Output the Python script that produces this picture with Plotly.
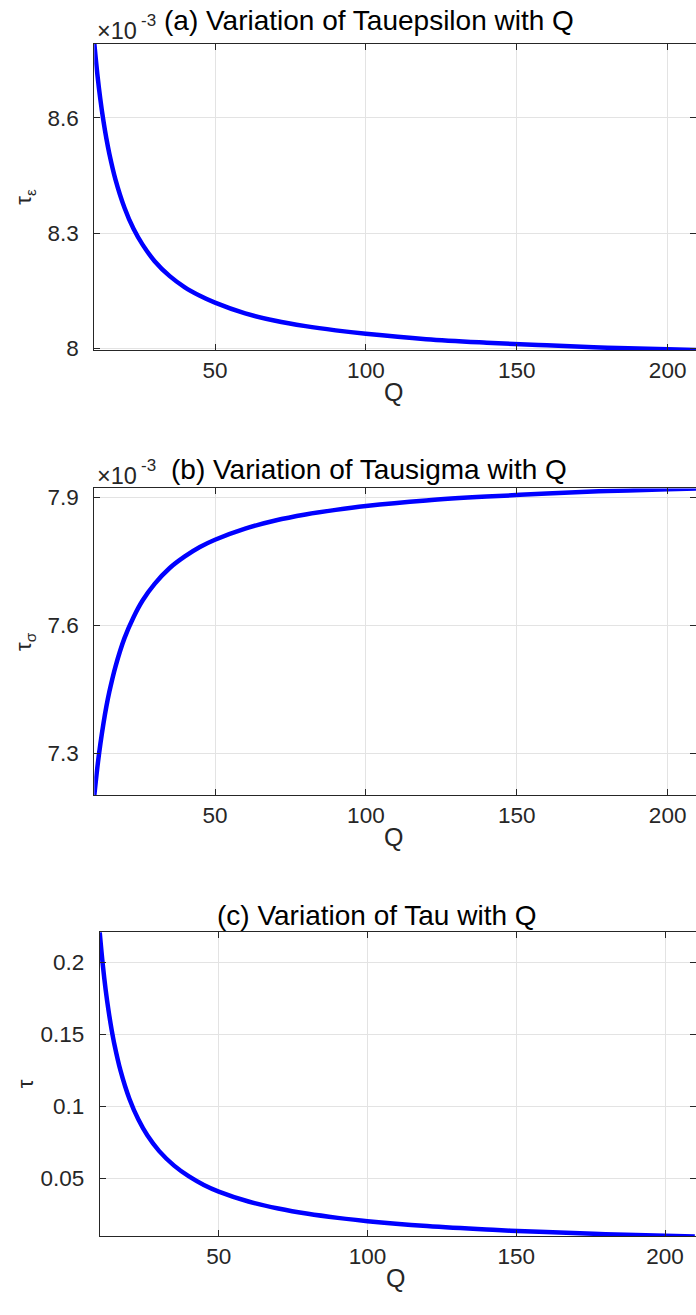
import plotly.graph_objects as go

# Quality factor samples
Q = [10, 11, 12, 13, 14, 15, 17, 20, 23, 26, 30, 35, 40, 45, 50,
     60, 70, 80, 90, 100, 120, 140, 160, 180, 200, 210]

# Strain relaxation time tau_epsilon (units of 1e-3 s)
tau_eps = [8.793, 8.714, 8.648, 8.593, 8.546, 8.506, 8.440, 8.366, 8.311,
           8.270, 8.227, 8.188, 8.159, 8.137, 8.119, 8.091, 8.072, 8.058,
           8.047, 8.038, 8.024, 8.015, 8.008, 8.002, 7.998, 7.996]

# Stress relaxation time tau_sigma (units of 1e-3 s)
tau_sig = [7.202, 7.267, 7.322, 7.369, 7.410, 7.445, 7.503, 7.570, 7.619,
           7.658, 7.697, 7.734, 7.761, 7.783, 7.800, 7.826, 7.845, 7.859,
           7.870, 7.879, 7.892, 7.901, 7.908, 7.914, 7.918, 7.920]

# tau = tau_epsilon / tau_sigma - 1
tau = [0.2210, 0.1991, 0.1811, 0.1661, 0.1534, 0.1425, 0.1248, 0.1051,
       0.0908, 0.0799, 0.0689, 0.0588, 0.0513, 0.0454, 0.0408, 0.0339,
       0.0290, 0.0253, 0.0225, 0.0202, 0.0168, 0.0144, 0.0126, 0.0112,
       0.0101, 0.0096]

x_ticks = [50, 100, 150, 200]
y_ticks_a = [8.0, 8.3, 8.6]
y_tick_text_a = ["8", "8.3", "8.6"]
y_ticks_b = [7.3, 7.6, 7.9]
y_tick_text_b = ["7.3", "7.6", "7.9"]
y_ticks_c = [0.05, 0.10, 0.15, 0.20]
y_tick_text_c = ["0.05", "0.1", "0.15", "0.2"]

titles = ["(a) Variation of Tauepsilon with Q",
          "(b) Variation of Tausigma with Q",
          "(c) Variation of Tau with Q"]
y_titles = ["τ<sub>ε</sub>", "τ<sub>σ</sub>", "τ"]

H = 1315
W = 696
FONT = "Liberation Sans, Arial, Helvetica, sans-serif"
INK = "#262626"
GRID = "#e3e3e3"
BLUE = "rgb(0,0,255)"

# panel geometry in pixels: (left, top, bottom, xmax)
panels = [
    (94.3, 41.0, 350.7, 209.4),
    (94.3, 490.7, 801.0, 209.4),
    (99.7, 939.3, 1246.7, 210.4),
]
series = [tau_eps, tau_sig, tau]
yticks = [(y_ticks_a, y_tick_text_a), (y_ticks_b, y_tick_text_b),
          (y_ticks_c, y_tick_text_c)]


def ann(text, x, y, size, color=INK, xanchor="center", angle=0):
    return dict(text=text, xref="paper", yref="paper",
                x=x / W, y=1 - y / H, xanchor=xanchor, yanchor="middle",
                textangle=angle, showarrow=False,
                font=dict(size=size, color=color, family=FONT))


fig = go.Figure()
layout = dict(
    width=W, height=H,
    margin=dict(l=0, r=0, t=0, b=0),
    paper_bgcolor="white", plot_bgcolor="white",
    showlegend=False,
    font=dict(family=FONT, color=INK),
)
annotations = []

for i, ((left, top, bottom, xmax), ys, (tv, tt)) in enumerate(zip(panels, series, yticks)):
    n = i + 1
    xa = "x" if n == 1 else f"x{n}"
    ya = "y" if n == 1 else f"y{n}"
    yr = f"y{n + 3}"
    ydom = [1 - bottom / H, 1 - top / H]
    xdom = [left / W, 1.0]
    ymin, ymax = min(ys), max(ys)

    fig.add_trace(go.Scatter(x=Q, y=ys, mode="lines", line_shape="spline",
                             line=dict(color=BLUE, width=4.5),
                             xaxis=xa, yaxis=ya, hoverinfo="skip"))

    xkey = "xaxis" if n == 1 else f"xaxis{n}"
    ykey = "yaxis" if n == 1 else f"yaxis{n}"
    layout[xkey] = dict(
        domain=xdom, anchor=ya, range=[10, xmax],
        tickvals=x_ticks, ticktext=[str(v) for v in x_ticks],
        ticks="inside", ticklen=6, tickcolor=INK, tickwidth=1,
        showline=True, linecolor=INK, linewidth=1, mirror="ticks",
        showgrid=True, gridcolor=GRID, gridwidth=1, zeroline=False,
        tickfont=dict(size=22.5, color=INK, family=FONT),
        ticklabelstandoff=0,
    )
    layout[ykey] = dict(
        domain=ydom, anchor=xa, range=[ymin, ymax],
        tickvals=tv, ticktext=tt,
        ticks="inside", ticklen=6, tickcolor=INK, tickwidth=1,
        showline=True, linecolor=INK, linewidth=1, mirror=False,
        showgrid=True, gridcolor=GRID, gridwidth=1, zeroline=False,
        tickfont=dict(size=22.5, color=INK, family=FONT),
        ticklabelstandoff=10,
    )
    # right-hand tick marks without an axis line
    layout[f"yaxis{n + 3}"] = dict(
        domain=ydom, anchor=xa, overlaying=ya, side="right",
        range=[ymin, ymax], tickvals=tv, showticklabels=False,
        ticks="inside", ticklen=6, tickcolor=INK, tickwidth=1,
        showline=False, showgrid=False, zeroline=False,
    )
    # empty trace so the right axis is drawn
    fig.add_trace(go.Scatter(x=[None], y=[None], xaxis=xa, yaxis=yr,
                             showlegend=False, hoverinfo="skip"))

    # panel title
    tcx = [368.5, 369.0, 377.0][i]
    tcy = [18.0, 472.0, 922.0][i]
    annotations.append(ann(titles[i], tcx, tcy, 28, color="black"))

    # x axis label
    annotations.append(ann("Q", left + (696 - left) / 2 - 2, bottom + 42, 25))

    # y axis label
    annotations.append(ann(y_titles[i], 25, (top + bottom) / 2, 22, angle=-90))

    # exponent marker for the 1e-3 scaled panels
    if i < 2:
        annotations.append(ann("×10", 95, top - 13, 23.5, xanchor="left"))
        annotations.append(ann("-3", 139, top - 23, 17, xanchor="left"))

layout["annotations"] = annotations
fig.update_layout(**layout)
fig.write_html("out.html")
